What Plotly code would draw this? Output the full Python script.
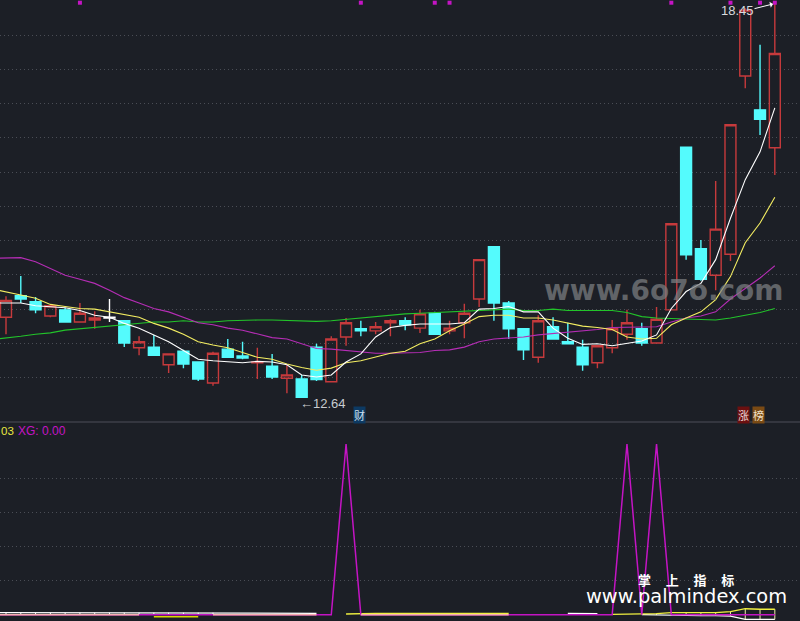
import plotly.graph_objects as go

OPEN = [13.82,14.14,14.05,13.84,13.93,13.75,13.78,13.81,13.77,13.37,13.38,13.12,13.32,13.16,12.85,13.35,13.25,13.15,13.10,12.92,12.91,13.38,12.87,13.53,13.65,13.62,13.74,13.77,13.66,13.88,13.62,13.74,14.09,14.86,14.03,13.65,13.23,13.68,13.46,13.38,13.15,13.37,13.57,13.65,13.44,13.93,16.33,14.83,14.44,14.75,17.38,16.88,16.32]
HIGH = [14.13,14.43,14.12,14.00,13.96,14.03,13.91,14.09,13.77,13.54,13.56,13.28,13.34,13.16,13.31,13.50,13.46,13.37,13.28,13.12,12.97,13.43,13.54,13.81,13.77,13.75,13.79,13.82,13.93,13.90,13.77,14.02,14.67,14.86,14.06,13.66,13.85,13.82,13.74,13.49,13.41,13.78,13.93,13.74,13.97,15.20,16.33,14.96,15.83,16.66,18.38,17.84,18.45]
LOW = [13.57,14.03,13.88,13.82,13.74,13.75,13.65,13.75,13.38,13.26,13.26,13.00,13.07,12.88,12.81,13.23,13.20,12.91,12.91,12.70,12.64,12.88,12.87,13.40,13.54,13.57,13.54,13.63,13.59,13.57,13.57,13.51,13.97,13.77,13.50,13.19,13.15,13.49,13.43,13.03,13.07,13.29,13.49,13.40,13.43,13.93,14.67,14.36,14.22,14.65,17.20,16.51,15.92]
CLOSE = [14.07,14.09,13.93,13.99,13.75,13.88,13.81,13.82,13.44,13.46,13.26,13.28,13.13,12.91,13.29,13.23,13.22,13.16,12.94,12.97,12.64,12.90,13.50,13.74,13.62,13.68,13.77,13.71,13.87,13.57,13.66,13.88,14.67,14.03,13.65,13.34,13.77,13.50,13.43,13.12,13.40,13.65,13.74,13.44,13.79,15.20,14.74,14.38,15.12,16.66,18.35,16.74,17.71]
DOJI_INDEX = [7]

# moving averages and the lower pane start one session earlier, off the left edge
MA5 = [14.03,14.03,14.03,13.99,13.98,13.96,13.92,13.85,13.82,13.73,13.66,13.56,13.46,13.33,13.20,13.18,13.16,13.15,13.17,13.16,13.12,12.97,12.94,12.97,13.16,13.28,13.53,13.67,13.70,13.72,13.72,13.72,13.74,13.94,13.95,13.98,13.90,13.90,13.66,13.51,13.42,13.43,13.40,13.44,13.47,13.56,13.95,14.20,14.32,14.67,15.28,15.85,16.26,16.91]
MA10 = [14.24,14.20,14.15,14.10,14.01,13.98,13.95,13.94,13.90,13.86,13.82,13.73,13.66,13.57,13.46,13.41,13.37,13.30,13.23,13.20,13.13,13.08,13.04,13.07,13.15,13.18,13.23,13.29,13.32,13.43,13.50,13.62,13.72,13.83,13.85,13.85,13.81,13.81,13.78,13.74,13.69,13.67,13.64,13.53,13.50,13.51,13.71,13.81,13.90,14.08,14.42,14.92,15.21,15.59]
MA20 = [14.69,14.69,14.70,14.64,14.54,14.44,14.38,14.32,14.22,14.11,14.03,13.95,13.90,13.82,13.74,13.71,13.66,13.63,13.57,13.52,13.50,13.43,13.36,13.35,13.33,13.31,13.29,13.29,13.29,13.30,13.33,13.34,13.38,13.46,13.50,13.51,13.53,13.56,13.58,13.59,13.61,13.64,13.67,13.67,13.67,13.68,13.75,13.81,13.84,13.90,14.09,14.25,14.40,14.58]
MA60 = [13.49,13.51,13.54,13.57,13.59,13.63,13.65,13.67,13.70,13.72,13.73,13.75,13.75,13.77,13.75,13.75,13.77,13.78,13.78,13.78,13.77,13.76,13.76,13.77,13.79,13.82,13.84,13.85,13.87,13.88,13.89,13.90,13.90,13.92,13.93,13.94,13.92,13.92,13.94,13.92,13.92,13.92,13.92,13.89,13.83,13.81,13.80,13.79,13.78,13.78,13.81,13.85,13.89,13.95]
SIGNAL_INDEX = [5,24,29,30,45,49,51,52]
SIGNAL_PRICE = 18.46

XG = [0,0,0,0,0,0,0,0,0,0,0,0,0,0,0,0,0,0,0,0,0,0,0,0,1,0,0,0,0,0,0,0,0,0,0,0,0,0,0,0,0,0,0,1,0,1,0,0,0,0,0,0,0,0]
N = None
WHITE_UP = [.012,.012,.012,.012,.012,.012,.012,.012,.012,.012,.012,.012,.012,.012,.012,.012,.008,.008,.008,.008,.008,.008,.008,N,N,N,N,N,N,N,N,N,N,N,N,N,N,N,N,.008,.008,.006,N,N,N,N,N,N,N,N,N,N,N,N]
PINK_LINE = [0,0,0,0,0,0,0,0,0,0,0,N,N,N,N,0,0,0,0,0,0,0,0,N,N,0,0,0,0,0,0,0,0,0,0,0,N,N,N,N,N,N,N,N,N,N,N,N,N,N,N,N,N,N]
YELLOW_LOW = [N,N,N,N,N,N,N,N,N,N,N,-.012,-.012,-.012,-.012,N,N,N,N,N,N,N,N,N,N,N,N,N,N,N,N,N,N,N,N,N,N,N,N,N,N,N,N,N,N,N,N,N,N,N,N,N,N,N]
YELLOW_UP = [N,N,N,N,N,N,N,N,N,N,N,N,N,N,N,N,N,N,N,N,N,N,N,N,.004,.008,.008,.008,.008,.008,.008,.008,.008,.008,.008,.008,N,N,N,N,N,N,.002,.002,.002,.006,.012,.012,.012,.012,.018,.035,.032,.032]
WHITE_LOW = [N,N,N,N,N,N,N,N,N,N,N,N,N,N,N,N,N,N,N,N,N,N,N,N,N,N,N,N,N,N,N,N,N,N,N,N,N,N,N,N,N,N,N,N,0,-.002,-.006,-.006,-.006,-.006,-.008,-.027,-.027,-.027]

BG = "#1c1f26"
RED = "#c63a3c"
CYAN = "#54fbfd"
W, H = 800, 621
PX = 14.785
X0 = 6.0

idx = list(range(len(OPEN)))
main = [i for i in idx if i not in DOJI_INDEX]
pick = lambda arr, ids: [arr[i] for i in ids]
ext_x = [i - 1 for i in range(len(MA5))]

fig = go.Figure()
fig.add_trace(go.Candlestick(
    x=main, open=pick(OPEN, main), high=pick(HIGH, main), low=pick(LOW, main), close=pick(CLOSE, main),
    increasing=dict(line=dict(color=RED, width=1.4), fillcolor="rgba(0,0,0,0)"),
    decreasing=dict(line=dict(color=CYAN, width=1.4), fillcolor=CYAN),
    whiskerwidth=0, xaxis="x", yaxis="y", showlegend=False))
fig.add_trace(go.Candlestick(
    x=DOJI_INDEX, open=pick(OPEN, DOJI_INDEX), high=pick(HIGH, DOJI_INDEX), low=pick(LOW, DOJI_INDEX), close=pick(CLOSE, DOJI_INDEX),
    increasing=dict(line=dict(color="#ffffff", width=1.4), fillcolor="#ffffff"),
    decreasing=dict(line=dict(color="#ffffff", width=1.4), fillcolor="#ffffff"),
    whiskerwidth=0, xaxis="x", yaxis="y", showlegend=False))

for vals, col in [(MA60, "#22c42a"), (MA20, "#b52db5"), (MA10, "#f4ee62"), (MA5, "#ffffff")]:
    fig.add_trace(go.Scatter(x=ext_x, y=vals, mode="lines", line=dict(color=col, width=1.1),
                             xaxis="x", yaxis="y", showlegend=False, hoverinfo="skip"))

fig.add_trace(go.Scatter(x=SIGNAL_INDEX, y=[SIGNAL_PRICE] * len(SIGNAL_INDEX), mode="markers",
                         marker=dict(symbol="square", size=4, color="#c414c4"),
                         xaxis="x", yaxis="y", showlegend=False))

# lower pane
sx, sy = [], []
for k, xv in enumerate(ext_x):
    if WHITE_UP[k] is not None and 0 <= xv < 15:
        sx += [xv, xv, None]; sy += [WHITE_UP[k], 0, None]
fig.add_trace(go.Scatter(x=sx, y=sy, mode="lines", line=dict(color="#ffffff", width=1),
                         xaxis="x2", yaxis="y2", showlegend=False))
sx, sy = [], []
for k, xv in enumerate(ext_x):
    if YELLOW_UP[k] is not None and WHITE_LOW[k] is not None:
        sx += [xv, xv, None]; sy += [YELLOW_UP[k], WHITE_LOW[k], None]
fig.add_trace(go.Scatter(x=sx, y=sy, mode="lines", line=dict(color="#eeeeaa", width=1),
                         xaxis="x2", yaxis="y2", showlegend=False))
for vals, col, w in [(YELLOW_LOW, "#d8d800", 1.4), (WHITE_LOW, "#ffffff", 1.2), (YELLOW_UP, "#f0f040", 1.3),
                     (WHITE_UP, "#ffffff", 1.3), (XG, "#c414c4", 1.5), (PINK_LINE, "#f8b0b0", 1.5)]:
    fig.add_trace(go.Scatter(x=ext_x, y=vals, mode="lines", line=dict(color=col, width=w),
                             xaxis="x2", yaxis="y2", showlegend=False, hoverinfo="skip"))

def px(x): return x / W
def py(y): return 1 - y / H

def label(x, y, text, size=12, color="#c8ccd0", family="Liberation Sans", anchor="left", bg=None, pad=0):
    fig.add_annotation(xref="paper", yref="paper", x=px(x), y=py(y), text=text, showarrow=False,
                       xanchor=anchor, yanchor="middle", bgcolor=bg, borderpad=pad,
                       font=dict(size=size, color=color, family=family))

label(719.5, 10.5, "18.45", 13, "#d8dade")
label(299, 403, "←12.64", 13)
label(353, 415, "财", 11, "#cfe0f0", "Noto Sans CJK SC", bg="#0d3a63")
label(737, 414.5, "涨", 11, "#f0d8d8", "Noto Sans CJK SC", bg="#6b1010")
label(752, 414.5, "榜", 11, "#f0e0c8", "Noto Sans CJK SC", bg="#7a4a14")
label(0, 431, "03", 11.5, "#e8e840")
label(17, 431, "XG: 0.00", 12, "#c414c4")
label(543, 290, "<b>www.6o7o.com</b>", 28, "rgba(125,127,130,0.72)", "DejaVu Sans")
label(585, 596, "www.palmindex.com", 19.4, "#ffffff", "DejaVu Sans")
label(637, 579, "<b>掌     上     指     标</b>", 13, "#ffffff", "Noto Sans CJK SC")
fig.add_annotation(xref="paper", yref="paper", x=px(773), y=py(4), ax=-20, ay=5, text="", showarrow=True,
                   arrowhead=1, arrowwidth=1, arrowcolor="#ffffff", arrowsize=1)

fig.add_shape(type="line", xref="paper", yref="paper", x0=0, x1=1, y0=py(422), y1=py(422),
              line=dict(color="#3c3f49", width=1.5))

PRICE_TICKS = [17.98,17.48,16.97,16.47,15.96,15.46,14.95,14.45,13.94,13.44,12.93]
XG_TICKS = [0.80,0.60,0.40,0.20]
xr = [(0 - X0) / PX, (W - X0) / PX]
hidden_x = dict(range=xr, visible=False, rangeslider=dict(visible=False), fixedrange=True)
grid = dict(showgrid=True, gridcolor="#4a4d55", griddash="1px,3px", gridwidth=1, zeroline=False,
            showticklabels=False, ticks="", showline=False, fixedrange=True)
fig.update_layout(
    width=W, height=H, margin=dict(l=0, r=0, t=0, b=0), autosize=False,
    paper_bgcolor=BG, plot_bgcolor=BG, showlegend=False, boxgap=0.26, boxgroupgap=0.0,
    xaxis=dict(hidden_x, anchor="y"),
    xaxis2=dict(hidden_x, anchor="y2"),
    yaxis=dict(grid, domain=[1 - 422 / H, 1], range=[18.5 - 0.01475 * 422, 18.5], tickvals=PRICE_TICKS),
    yaxis2=dict(grid, domain=[0, 1 - 423 / H], range=[-0.0369, 1.123], tickvals=XG_TICKS),
)
fig.write_html("out.html", config=dict(displayModeBar=False),
               post_script="document.body.style.margin='0';document.body.style.overflow='hidden';document.body.style.background='#1c1f26';")
